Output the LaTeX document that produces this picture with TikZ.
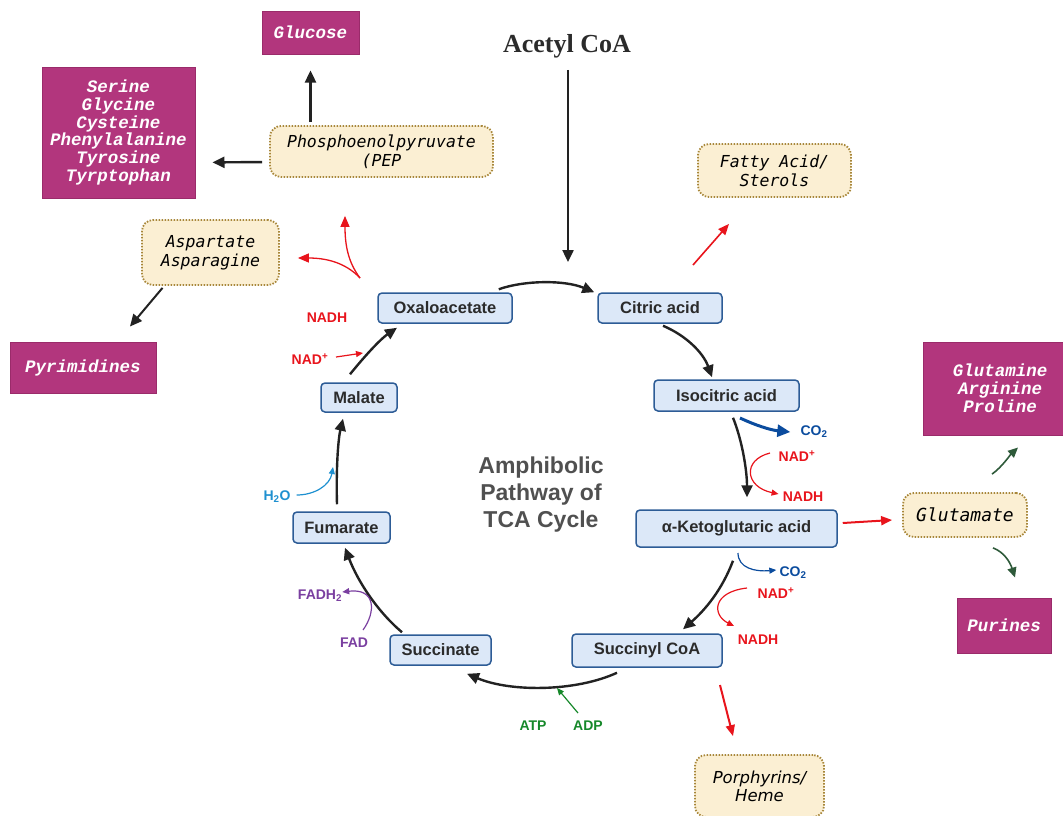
\documentclass[tikz,border=0pt]{standalone}
\usepackage{fontspec}
\setmainfont{Liberation Sans}
\newfontfamily\magf{Liberation Mono}
\newfontfamily\creamf{DejaVu Sans Mono}
\newfontfamily\porf{DejaVu Sans}
\newfontfamily\serf{Liberation Serif}
\usetikzlibrary{arrows.meta,calc}
\definecolor{mag}{HTML}{B2367D}
\definecolor{magd}{HTML}{9A2B6A}
\definecolor{cream}{HTML}{FBEFD3}
\definecolor{creamb}{HTML}{A8873A}
\definecolor{cycf}{HTML}{DCE8F8}
\definecolor{cycb}{HTML}{2D5C96}
\definecolor{txt}{HTML}{2B2B2B}
\definecolor{arr}{HTML}{222222}
\definecolor{rd}{HTML}{E8141C}
\definecolor{co}{HTML}{0B4C9E}
\definecolor{wat}{HTML}{1E90D0}
\definecolor{pur}{HTML}{7A3FA0}
\definecolor{grn}{HTML}{16882A}
\definecolor{dgrn}{HTML}{2E5A3A}
\definecolor{ctr}{HTML}{505050}
\begin{document}
\begin{tikzpicture}[x=1pt,y=-1pt,
 magbox/.style={fill=mag, draw=magd, line width=1pt, text=white, align=center, inner sep=0pt, font=\magf\bfseries\itshape\fontsize{17.5}{17.8}\selectfont},
 creambox/.style={fill=cream, draw=creamb, line width=1.8pt, dash pattern=on 1.5pt off 1.5pt, rounded corners=11pt, align=center, inner sep=0pt, font=\creamf\itshape\fontsize{16.5}{19}\selectfont},
 cycbox/.style={fill=cycf, draw=cycb, line width=1.5pt, rounded corners=4pt, inner sep=0pt, text=txt, font=\bfseries\fontsize{16.5}{18}\selectfont},
 flow/.style={-{Triangle[length=12pt,width=11pt]}, line width=2.4pt, draw=arr},
 redflow/.style={-{Triangle[length=11pt,width=9pt]}, line width=1.6pt, draw=rd},
 thin/.style={-{Triangle[length=7pt,width=6pt]}, line width=1.2pt},
 gflow/.style={-{Triangle[length=10pt,width=9pt]}, line width=1.6pt, draw=dgrn},
 cof/.style={font=\bfseries\fontsize{14}{16}\selectfont, inner sep=0pt},
]
\path[use as bounding box] (0,0) rectangle (1063,815);
\clip (0,0) rectangle (1063,815);

% product boxes
\node[magbox, minimum width=97pt, minimum height=43pt] (glu) at (310.5,32.5) {Glucose};
\node[magbox, minimum width=153pt, minimum height=131pt] (ser) at (118.5,132.5) {Serine\\Glycine\\Cysteine\\Phenylalanine\\Tyrosine\\Tyrptophan};
\node[magbox, minimum width=146pt, minimum height=51pt] (pyr) at (83,367.5) {Pyrimidines};
\node[magbox, minimum width=154pt, minimum height=93pt] (glm) at (1000,388.5) {Glutamine\\Arginine\\Proline};
\node[magbox, minimum width=94pt, minimum height=55pt] (pur) at (1004,625.5) {Purines};

% intermediates
\node[creambox, minimum width=223pt, minimum height=51pt] (pep) at (381.5,151.5) {Phosphoenolpyruvate\\(PEP};
\node[creambox, minimum width=137pt, minimum height=65pt] (asp) at (210.5,252.5) {Aspartate\\Asparagine};
\node[creambox, minimum width=153pt, minimum height=53pt] (fat) at (774.5,170.5) {Fatty Acid/\\Sterols};
\node[creambox, minimum width=124pt, minimum height=44pt, font=\creamf\itshape\fontsize{18}{19}\selectfont] (glut) at (965,515) {Glutamate};
\node[creambox, minimum width=129pt, minimum height=62pt, font=\porf\itshape\fontsize{16.5}{18}\selectfont] (por) at (759.5,786) {Porphyrins/\\Heme};

% titles
\node[font=\serf\bfseries\fontsize{26}{30}\selectfont, text=txt, inner sep=0pt, anchor=base] (acetyl) at (567,52) {Acetyl CoA};
\node[font=\bfseries\fontsize{23}{27}\selectfont, text=ctr, align=center, inner sep=0pt] (title) at (541,495) {Amphibolic\\Pathway of\\TCA Cycle};

% cycle
\node[cycbox, minimum width=134pt, minimum height=30pt] (oxa) at (445,308) {Oxaloacetate};
\node[cycbox, minimum width=124pt, minimum height=30pt] (cit) at (660,308) {Citric acid};
\node[cycbox, minimum width=145pt, minimum height=31pt] (iso) at (726.5,395.5) {Isocitric acid};
\node[cycbox, minimum width=201pt, minimum height=37pt] (akg) at (736.5,528.5) {α-Ketoglutaric acid};
\node[cycbox, minimum width=150pt, minimum height=33pt] (sca) at (647,650.5) {Succinyl CoA};
\node[cycbox, minimum width=101pt, minimum height=30pt] (suc) at (440.5,650) {Succinate};
\node[cycbox, minimum width=97pt, minimum height=31pt] (fum) at (341.5,527.5) {Fumarate};
\node[cycbox, minimum width=76pt, minimum height=29pt] (mal) at (359,397.5) {Malate};

% cofactor labels
\node[cof, text=rd] (nadh1) at (327,318) {NADH};
\node[cof, text=rd] (nad1) at (310,359) {NAD\textsuperscript{+}};
\node[cof, text=wat] (h2o) at (277,497) {H\textsubscript{2}O};
\node[cof, text=pur] (fadh) at (320,596) {FADH\textsubscript{2}};
\node[cof, text=pur] (fad) at (354,643) {FAD};
\node[cof, text=grn] (atp) at (533,726) {ATP};
\node[cof, text=grn] (adp) at (588,726) {ADP};
\node[cof, text=co] (co2a) at (814,432) {CO\textsubscript{2}};
\node[cof, text=rd] (nad2) at (797,456) {NAD\textsuperscript{+}};
\node[cof, text=rd] (nadh2) at (803,497) {NADH};
\node[cof, text=co] (co2b) at (793,573) {CO\textsubscript{2}};
\node[cof, text=rd] (nad3) at (776,593) {NAD\textsuperscript{+}};
\node[cof, text=rd] (nadh3) at (758,640) {NADH};

% free ends
\coordinate (acin) at (568,262);
\coordinate (oxout) at (360,278);
\coordinate (fatin) at (693,265);
\coordinate (porout) at (720,685);
\coordinate (cyc1) at (336,357);
\coordinate (cyc2) at (363,353);
\coordinate (cyc3) at (333,467);
\coordinate (cyc4) at (363,630);
\coordinate (cyc5) at (578,713);
\coordinate (cyc6) at (557,688);
\coordinate (cyc7) at (740,418);
\coordinate (cyc8) at (770,453);
\coordinate (cyc9) at (738,553);
\coordinate (cyc10) at (747,588);

% main arrows
\draw[flow, shorten <=12pt] (acetyl.south -| acin) -- (acin);
\draw[flow, shorten <=3pt, shorten >=16pt] (pep.north -| glu.south) -- (glu.south);
\draw[flow, shorten <=7pt, shorten >=17pt] ($(pep.west)+(0,10.5)$) -- ($(ser.east)+(0,30)$);
\draw[flow, line width=2pt] ($(asp.south)+(-48,2)$) -- ($(pyr.north)+(47,-15)$);

% cycle arrows
\draw[flow] ($(oxa.north east)+(-14,-3)$) .. controls (525,280) and (565,280) .. ($(cit.north west)+(-3,0)$);
\draw[flow] ($(cit.south)+(3,2)$) .. controls (685,335) and (703,352) .. ($(iso.north)+(-14.5,-2)$);
\draw[flow] ($(iso.south)+(6.5,6)$) .. controls (742,440) and (747,470) .. ($(akg.north)+(10.5,-12)$);
\draw[flow] ($(akg.south)+(-3.5,13)$) .. controls (722,590) and (705,610) .. ($(sca.north)+(36,-4)$);
\draw[flow] ($(sca.south)+(-30,5)$) .. controls (575,692) and (510,692) .. ($(suc.south)+(26.5,8)$);
\draw[flow] ($(suc.north)+(-38.5,-2)$) .. controls (378,612) and (358,582) .. ($(fum.south)+(3.5,4)$);
\draw[flow] ($(fum.north)+(-4.5,-7)$) .. controls (336,470) and (338,440) .. ($(mal.south)+(-16,6)$);
\draw[flow] ($(mal.north)+(-9,-8)$) .. controls (368,352) and (382,338) .. ($(oxa.south)+(-48,4)$);

% red branch arrows
\draw[redflow, line width=1.3pt] (oxout) .. controls (345,262) and (325,258) .. ($(asp.east)+(18,5.5)$);
\draw[redflow, line width=1.3pt] (oxout) .. controls (348,262) and (345,245) .. ($(pep.south)+(-36.5,38)$);
\draw[redflow] (fatin) -- ($(fat.south)+(-45.5,26)$);
\draw[redflow, line width=2pt] ($(akg.east)+(5,-5.5)$) -- ($(glut.west)+(-10,5)$);
\draw[redflow, line width=2pt] (porout) -- ($(por.north)+(-26.5,-18)$);
\draw[gflow] ($(glut.north)+(27,-18)$) .. controls (1002,467) and (1010,455) .. ($(glm.south)+(18,12)$);
\draw[gflow] ($(glut.south)+(28,10)$) .. controls (1004,552) and (1010,562) .. ($(pur.north)+(11,-20)$);

% cofactor arrows
\draw[thin, draw=rd] (cyc1) -- (cyc2);
\draw[thin, draw=wat] ($(h2o.east)+(6,-2)$) .. controls (315,495) and (330,485) .. (cyc3);
\draw[thin, draw=pur] (cyc4) .. controls (376,612) and (376,588) .. ($(fadh.east)+(0,-4)$);
\draw[thin, draw=grn] (cyc5) -- (cyc6);
\draw[-{Triangle[length=13pt,width=12pt]}, line width=3pt, draw=co] (cyc7) .. controls (755,425) and (770,430) .. ($(co2a.west)+(-10,0)$);
\draw[thin, draw=rd] (cyc8) .. controls (742,460) and (745,487) .. ($(nadh2.west)+(-4,-3)$);
\draw[thin, draw=co] (cyc9) .. controls (738,568) and (755,572) .. ($(co2b.west)+(-3,-3)$);
\draw[thin, draw=rd] (cyc10) .. controls (712,592) and (712,615) .. ($(nadh3.north)+(-24,-9)$);
\end{tikzpicture}
\end{document}
